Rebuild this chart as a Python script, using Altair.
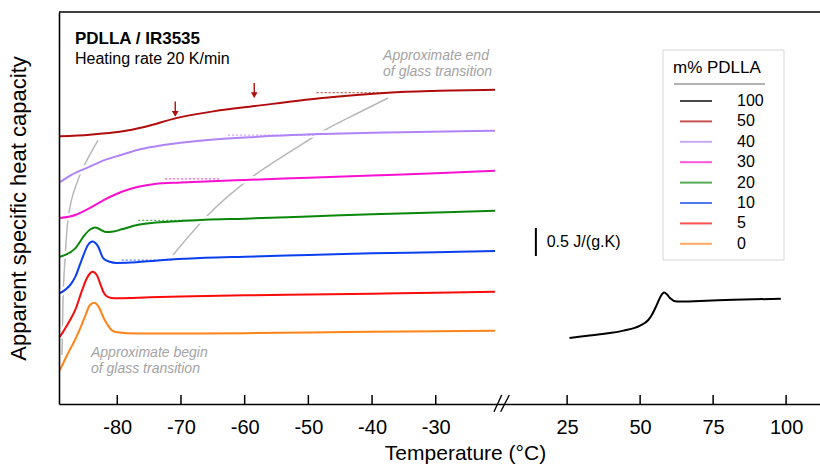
import altair as alt
import pandas as pd

FONT = "Liberation Sans, Arial, sans-serif"

# ---------------- data ----------------
series_order = ["100", "50", "40", "30", "20", "10", "5", "0"]
series_colors = ["#000000", "#b00c0c", "#b084f7", "#fb10d0", "#0a870a", "#0a3ff0", "#fb0a0a", "#ff8418"]

t_0 = [-89.0, -88.2, -87.4, -86.64, -85.86, -85.07, -84.29, -83.6, -82.9, -82.2, -81.5, -80.8, -80.0, -78.5, -75.0, -70.0, -60.0, -50.0, -40.0, -30.0, -20.7]
cp_0 = [0.607, 0.80, 0.98, 1.143, 1.34, 1.559, 1.768, 1.81, 1.73, 1.55, 1.41, 1.31, 1.28, 1.265, 1.26, 1.26, 1.265, 1.275, 1.29, 1.30, 1.31]

t_5 = [-89.0, -87.7, -86.6, -85.6, -84.8, -84.3, -83.9, -83.2, -82.7, -82.2, -81.7, -80.9, -80.0, -75.0, -70.0, -60.0, -50.0, -40.0, -30.0, -20.7]
cp_5 = [1.20, 1.44, 1.68, 2.005, 2.24, 2.33, 2.36, 2.30, 2.155, 2.005, 1.93, 1.895, 1.89, 1.905, 1.92, 1.94, 1.955, 1.97, 1.985, 2.005]

t_10 = [-89.0, -87.2, -86.6, -85.6, -84.6, -83.9, -83.0, -82.2, -81.2, -80.1, -77.0, -74.0, -66.2, -60.0, -50.0, -40.0, -30.0, -20.7]
cp_10 = [1.98, 2.155, 2.27, 2.57, 2.84, 2.90, 2.81, 2.60, 2.54, 2.52, 2.53, 2.56, 2.61, 2.63, 2.66, 2.69, 2.71, 2.73]

t_20 = [-89.0, -86.6, -85.1, -84.2, -83.5, -82.9, -82.45, -81.7, -80.6, -79.3, -76.7, -71.5, -66.2, -60.0, -50.0, -40.0, -30.0, -20.7]
cp_20 = [2.63, 2.78, 3.02, 3.12, 3.15, 3.13, 3.10, 3.07, 3.08, 3.12, 3.20, 3.26, 3.29, 3.31, 3.35, 3.39, 3.42, 3.45]

t_30 = [-89.0, -86.6, -84.5, -81.9, -79.3, -76.7, -74.1, -70.0, -66.2, -60.0, -50.0, -40.0, -30.0, -20.7]
cp_30 = [3.32, 3.375, 3.49, 3.655, 3.79, 3.88, 3.93, 3.955, 3.975, 4.00, 4.04, 4.08, 4.12, 4.165]

t_40 = [-89.0, -87.2, -84.5, -81.9, -79.3, -76.7, -74.1, -66.2, -58.4, -47.9, -37.5, -20.7]
cp_40 = [3.96, 4.09, 4.23, 4.36, 4.45, 4.54, 4.60, 4.71, 4.77, 4.82, 4.85, 4.88]

t_50 = [-89.0, -84.3, -79.6, -75.6, -70.9, -64.7, -58.4, -48.2, -37.5, -30.4, -20.7]
cp_50 = [4.78, 4.81, 4.86, 4.95, 5.10, 5.23, 5.32, 5.46, 5.56, 5.59, 5.61]

t_100 = [25.8, 36.3, 44.3, 50.0, 52.8, 54.0, 55.7, 57.1, 58.2, 59.3, 60.3, 62.6, 70.6, 82.0, 98.2]
cp_100 = [1.18, 1.245, 1.31, 1.40, 1.50, 1.59, 1.77, 1.93, 1.99, 1.95, 1.89, 1.83, 1.84, 1.86, 1.88]

# tangent (dotted) lines at end of glass transition
tan_series = ["50", "40", "30", "20", "10"]
tan_t1 = [-48.7, -62.6, -72.5, -76.7, -79.3]
tan_t2 = [-37.7, -49.0, -63.9, -67.0, -71.5]
tan_cp = [5.56, 4.80, 4.02, 3.28, 2.57]

# guide curves (begin / end of glass transition)
begin_t = [-88.68, -88.53, -88.21, -87.74, -86.17, -84.60, -83.03]
begin_cp = [0.875, 1.80, 2.57, 3.29, 4.00, 4.39, 4.71]
end_t = [-71.25, -65.76, -58.38, -52.41, -47.38, -41.89, -37.49]
end_cp = [2.66, 3.375, 4.09, 4.536, 4.893, 5.214, 5.464]

# arrows on the 50 % curve
arrow_t = [-70.9, -58.5]
arrow_top = [5.40, 5.73]
arrow_tip = [5.11, 5.445]

# scale bar 0.5 J/(g.K)
bar_t = [14.3]
bar_lo = [2.643]
bar_hi = [3.143]

tick_values = [-80, -70, -60, -50, -40, -30, 25, 50, 75, 100]

curves = {
    "0": (t_0, cp_0), "5": (t_5, cp_5), "10": (t_10, cp_10), "20": (t_20, cp_20),
    "30": (t_30, cp_30), "40": (t_40, cp_40), "50": (t_50, cp_50), "100": (t_100, cp_100),
}
rows = []
for s, (ts, cs) in curves.items():
    for t, c in zip(ts, cs):
        rows.append({"series": s, "T": t, "cp": c})
df_curves = pd.DataFrame(rows)

df_tan = pd.DataFrame({"series": tan_series, "T": tan_t1, "T2": tan_t2, "cp": tan_cp})
df_guides = pd.DataFrame(
    [{"g": "begin", "T": t, "cp": c} for t, c in zip(begin_t, begin_cp)]
    + [{"g": "end", "T": t, "cp": c} for t, c in zip(end_t, end_cp)]
)
df_arrow = pd.DataFrame({"T": arrow_t, "top": arrow_top, "tip": arrow_tip})
df_arrow["head"] = df_arrow["tip"] + 0.07
df_bar = pd.DataFrame({"T": bar_t, "lo": bar_lo, "hi": bar_hi})
df_ticks = pd.DataFrame({"T": tick_values})

df_title = pd.DataFrame({"T": [-86.64], "cp": [6.43], "text": ["PDLLA / IR3535"]})
df_sub = pd.DataFrame({"T": [-86.64], "cp": [6.077], "text": ["Heating rate 20 K/min"]})
df_gray = pd.DataFrame({
    "T": [-38.27, -38.27, -84.13, -84.13],
    "cp": [6.14, 5.857, 0.834, 0.548],
    "text": ["Approximate end", "of glass transition", "Approximate begin", "of glass transition"],
})
df_barlab = pd.DataFrame({"T": [18.0], "cp": [2.89], "text": ["0.5 J/(g.K)"]})
dummy = pd.DataFrame({"a": [0]})

# ---------------- scales / axes ----------------
W, H = 761, 392
xs = alt.Scale(domain=[-89.15, -19.6, 2.7, 111.6], range=[0, 443, 443, W], nice=False, zero=False)
ys = alt.Scale(domain=[0, 7], nice=False, zero=False)

x_axis = alt.Axis(
    values=tick_values, labelExpr="'' + datum.value", ticks=False, tickSize=0, grid=False,
    labelFont=FONT, labelFontSize=20, labelColor="black", labelPadding=29,
    labelBaseline="alphabetic", labelFlush=False, labelOverlap=False,
    domainColor="black", domainWidth=1.6,
    title="Temperature (°C)", titleFont=FONT, titleFontSize=21, titleFontWeight="normal",
    titleColor="black", titleX=406, titleY=55, titleBaseline="alphabetic", zindex=2,
)
y_axis = alt.Axis(
    ticks=False, labels=False, grid=False, domainColor="black", domainWidth=1.6,
    title="Apparent specific heat capacity", titleFont=FONT, titleFontSize=22,
    titleFontWeight="normal", titleColor="black", titleX=-41, titleY=196,
    titleAngle=270, titleAlign="center", titleBaseline="middle", zindex=2,
)


def X(f):
    return alt.X(f, type="quantitative", scale=xs, axis=x_axis)


def Y(f):
    return alt.Y(f, type="quantitative", scale=ys, axis=y_axis)


color_enc = alt.Color(
    "series:N",
    scale=alt.Scale(domain=series_order, range=series_colors),
    legend=alt.Legend(
        title="m% PDLLA", orient="none", legendX=604, legendY=38,
        symbolType="stroke", symbolSize=1024, symbolStrokeWidth=2, symbolOffset=6,
        labelOffset=24, clipHeight=16, rowPadding=4.4, padding=10, titlePadding=16,
        titleFont=FONT, titleFontSize=17, titleFontWeight="normal", titleColor="black",
        labelFont=FONT, labelFontSize=16, labelColor="black",
    ),
)

# ---------------- layers ----------------
legend_box = alt.Chart(dummy).mark_rect(fill="white", stroke="#d6d6d6", strokeWidth=1).encode(
    x=alt.value(604), x2=alt.value(725), y=alt.value(38), y2=alt.value(248)
)
legend_rule = alt.Chart(dummy).mark_rule(color="#666666", strokeWidth=1).encode(
    x=alt.value(615), x2=alt.value(706), y=alt.value(72)
)

guides = alt.Chart(df_guides).mark_line(color="#b8b8b8", strokeWidth=1.5, interpolate="monotone").encode(
    x=X("T"), y=Y("cp"), detail="g:N"
)
halo = alt.Chart(df_curves).mark_line(color="white", strokeWidth=7, interpolate="monotone", strokeCap="butt").encode(
    x=X("T"), y=Y("cp"), detail="series:N"
)
tangents = alt.Chart(df_tan).mark_rule(strokeWidth=1.3, strokeDash=[2, 2], opacity=0.7).encode(
    x=X("T"), x2="T2", y=Y("cp"), color=color_enc
)
lines = alt.Chart(df_curves).mark_line(strokeWidth=2, interpolate="monotone").encode(
    x=X("T"), y=Y("cp"), color=color_enc
)
arrow_shaft = alt.Chart(df_arrow).mark_rule(color="#b00c0c", strokeWidth=1.4).encode(
    x=X("T"), y=Y("top"), y2="head"
)
arrow_head = alt.Chart(df_arrow).mark_point(shape="triangle-down", filled=True, size=45, color="#b00c0c", opacity=1).encode(
    x=X("T"), y=Y("head")
)
bar = alt.Chart(df_bar).mark_rule(color="black", strokeWidth=2).encode(
    x=X("T"), y=Y("lo"), y2="hi"
)
bar_label = alt.Chart(df_barlab).mark_text(align="left", baseline="middle", font=FONT, fontSize=16, color="black").encode(
    x=X("T"), y=Y("cp"), text="text:N"
)
title_txt = alt.Chart(df_title).mark_text(align="left", baseline="alphabetic", font=FONT, fontSize=17, fontWeight="bold", color="black").encode(
    x=X("T"), y=Y("cp"), text="text:N"
)
sub_txt = alt.Chart(df_sub).mark_text(align="left", baseline="alphabetic", font=FONT, fontSize=16, color="black").encode(
    x=X("T"), y=Y("cp"), text="text:N"
)
gray_txt = alt.Chart(df_gray).mark_text(align="left", baseline="alphabetic", font=FONT, fontSize=14, fontStyle="italic", color="#a3a3a3").encode(
    x=X("T"), y=Y("cp"), text="text:N"
)
ticks = alt.Chart(df_ticks).mark_rule(color="black", strokeWidth=1.5).encode(
    x=X("T"), y=alt.value(H - 9), y2=alt.value(H)
)
top_border = alt.Chart(dummy).mark_rule(color="black", strokeWidth=1.6).encode(
    x=alt.value(0), x2=alt.value(W), y=alt.value(0)
)
break_gap = alt.Chart(dummy).mark_rect(color="white").encode(
    x=alt.value(439), x2=alt.value(446), y=alt.value(389), y2=alt.value(395)
)
slash1 = alt.Chart(dummy).mark_rule(color="black", strokeWidth=1.4).encode(
    x=alt.value(435), x2=alt.value(442.7), y=alt.value(399.7), y2=alt.value(383)
)
slash2 = alt.Chart(dummy).mark_rule(color="black", strokeWidth=1.4).encode(
    x=alt.value(441.7), x2=alt.value(450.3), y=alt.value(399.7), y2=alt.value(383)
)

chart = alt.layer(
    legend_box, legend_rule, guides, halo, tangents, lines, arrow_shaft, arrow_head,
    bar, bar_label, title_txt, sub_txt, gray_txt, ticks, top_border,
    break_gap, slash1, slash2,
).properties(
    width=W, height=H,
    padding={"left": 59, "top": 12, "right": 0, "bottom": 60},
    autosize=alt.AutoSizeParams(type="none"),
).configure_view(stroke=None)

chart.save("out.html", embed_options={"renderer": "svg", "actions": False})
